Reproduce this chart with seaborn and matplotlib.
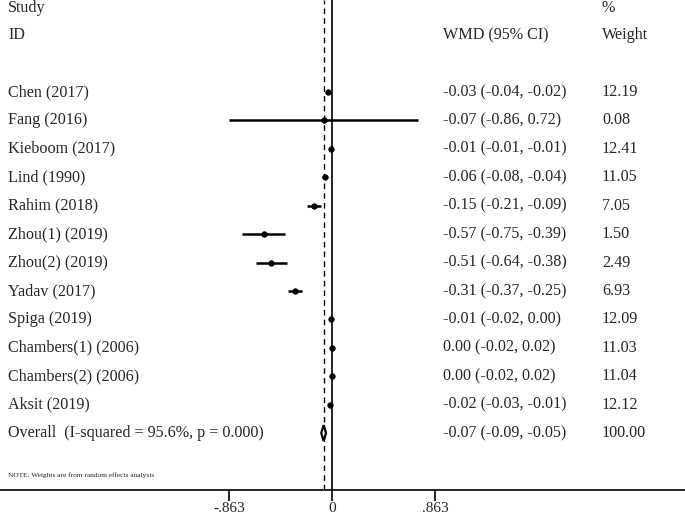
#!/usr/bin/env python3

import matplotlib

matplotlib.use("Agg")

import matplotlib.pyplot as plt
import pandas as pd
import seaborn as sns

studies = [
    "Chen (2017)",
    "Fang (2016)",
    "Kieboom (2017)",
    "Lind (1990)",
    "Rahim (2018)",
    "Zhou(1) (2019)",
    "Zhou(2) (2019)",
    "Yadav (2017)",
    "Spiga (2019)",
    "Chambers(1) (2006)",
    "Chambers(2) (2006)",
    "Aksit (2019)",
]
wmd = [-0.03, -0.07, -0.01, -0.06, -0.15, -0.57, -0.51, -0.31, -0.01, 0.00, 0.00, -0.02]
ci_low = [-0.04, -0.86, -0.01, -0.08, -0.21, -0.75, -0.64, -0.37, -0.02, -0.02, -0.02, -0.03]
ci_high = [-0.02, 0.72, -0.01, -0.04, -0.09, -0.39, -0.38, -0.25, 0.00, 0.02, 0.02, -0.01]
weights = [12.19, 0.08, 12.41, 11.05, 7.05, 1.50, 2.49, 6.93, 12.09, 11.03, 11.04, 12.12]

overall_label = "Overall  (I-squared = 95.6%, p = 0.000)"
overall_wmd = -0.07
overall_low = -0.09
overall_high = -0.05
overall_weight = 100.00

tick_values = [-0.863, 0, 0.863]
tick_labels = ["-.863", "0", ".863"]


def main():
    sns.set_style("white")
    plt.rcParams["font.family"] = ["Liberation Serif", "DejaVu Serif"]

    df = pd.DataFrame(
        {
            "study": studies,
            "wmd": wmd,
            "low": ci_low,
            "high": ci_high,
            "weight": weights,
        }
    )
    df["row"] = range(len(df))
    overall_row = len(df)

    fig = plt.figure(figsize=(6.85, 5.17), dpi=100)
    ax = fig.add_axes([0, 27 / 517, 1, 490 / 517])

    # pixel row -> data row
    def yrow(px):
        return (px - 92) / 28.42

    # confidence intervals and point estimates
    ax.hlines(df["row"], df["low"], df["high"], color="black", lw=1.8, zorder=3)
    sns.scatterplot(
        data=df, x="wmd", y="row", color="black", s=16, marker="o",
        edgecolor="black", linewidth=0.5, ax=ax, zorder=4, legend=False,
    )

    # overall diamond
    h = 0.28
    ax.fill(
        [overall_low, overall_wmd, overall_high, overall_wmd],
        [overall_row, overall_row - h, overall_row, overall_row + h],
        facecolor="white", edgecolor="black", lw=1.6, zorder=4,
    )

    ax.axvline(0, color="black", lw=1.2, zorder=2)
    ax.axvline(overall_wmd, color="black", lw=1.0, ls=(0, (4, 3)), zorder=2)

    ax.set_xlim((0 - 332) / 119.4, (685 - 332) / 119.4)
    ax.set_ylim(yrow(490), yrow(0))

    # text columns
    trans = ax.get_yaxis_transform()
    fs = 11.6
    x_id, x_wmd, x_w = 8 / 685, 443 / 685, 602 / 685
    ax.text(x_id, yrow(8), "Study", transform=trans, fontsize=fs, va="center")
    ax.text(x_id, yrow(35), "ID", transform=trans, fontsize=fs, va="center")
    ax.text(x_wmd, yrow(35), "WMD (95% CI)", transform=trans, fontsize=fs, va="center")
    ax.text(x_w, yrow(8), "%", transform=trans, fontsize=fs, va="center")
    ax.text(x_w, yrow(35), "Weight", transform=trans, fontsize=fs, va="center")

    for _, r in df.iterrows():
        ax.text(x_id, r["row"], r["study"], transform=trans, fontsize=fs, va="center")
        ax.text(
            x_wmd, r["row"], f"{r['wmd']:.2f} ({r['low']:.2f}, {r['high']:.2f})",
            transform=trans, fontsize=fs, va="center",
        )
        ax.text(x_w, r["row"], f"{r['weight']:.2f}", transform=trans, fontsize=fs, va="center")

    ax.text(x_id, overall_row, overall_label, transform=trans, fontsize=fs, va="center")
    ax.text(
        x_wmd, overall_row, f"{overall_wmd:.2f} ({overall_low:.2f}, {overall_high:.2f})",
        transform=trans, fontsize=fs, va="center",
    )
    ax.text(x_w, overall_row, f"{overall_weight:.2f}", transform=trans, fontsize=fs, va="center")

    ax.text(
        x_id, yrow(475), "NOTE: Weights are from random effects analysis",
        transform=trans, fontsize=5.3, va="center",
    )

    # axis
    for side in ["top", "left", "right"]:
        ax.spines[side].set_visible(False)
    ax.spines["bottom"].set_color("black")
    ax.spines["bottom"].set_linewidth(1.2)
    ax.set_xticks(tick_values)
    ax.set_xticklabels(tick_labels, fontsize=11)
    ax.tick_params(axis="x", direction="out", length=8, width=1.2, color="black", pad=0.5, bottom=True)
    ax.set_yticks([])
    ax.set_xlabel("")
    ax.set_ylabel("")

    fig.savefig("out.png", dpi=100)
    plt.close(fig)


if __name__ == "__main__":
    main()
